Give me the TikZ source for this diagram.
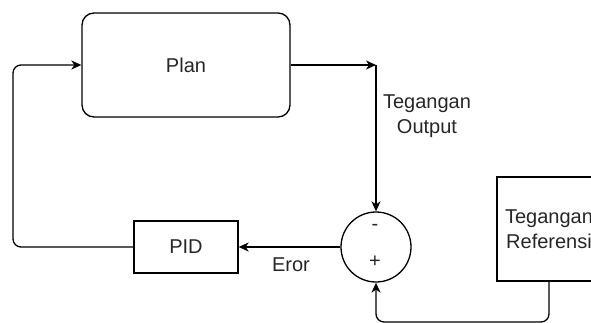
\documentclass[tikz,border=0pt]{standalone}
\usepackage{fontspec}
\setmainfont{Liberation Sans}
\usetikzlibrary{arrows.meta}
\tikzset{
  wire/.style={line width=1.3pt, black, rounded corners=8pt},
  arr/.style={-{Stealth[length=10pt,width=9pt,inset=3pt]}},
  block/.style={draw, line width=1.3pt, minimum width=104pt, minimum height=52pt, inner sep=0pt, align=center},
  lbl/.style={font=\fontsize{20}{25}\selectfont, text=black!85},
}
\begin{document}
\begin{tikzpicture}[x=1pt,y=-1pt]
  \useasboundingbox (0,0) rectangle (591,323);
  \clip (0,0) rectangle (591,323);
  % blocks
  \node[block, rounded corners=12pt, minimum width=208pt, minimum height=104pt, lbl] (plan) at (186,65) {Plan};
  \node[block, lbl] (pid) at (186,247) {PID};
  \node[draw, circle, line width=1.3pt, minimum size=70pt, inner sep=0pt] (sum) at (376,247) {};
  \node[lbl] (minus) at (375,227) {-};
  \node[lbl] (plus) at (375,262) {+};
  \node[block, lbl, minimum height=104pt] (ref) at (549,229) {Tegangan\\Referensi};
  % waypoints
  \coordinate (corner) at (376,65);
  % connectors
  \draw[wire, arr] (plan.east) -- (corner);
  \draw[wire, arr] (corner) -- (sum.north);
  \draw[wire, arr] (sum.west) -- (pid.east);
  \draw[wire, arr] (pid.west) -- (13,247) -- (13,65) -- (plan.west);
  \draw[wire, arr] (ref.south) -- (549,322) -- (376,322) -- (sum.south);
  % labels
  \node[lbl, align=center] (vout) at (427,116) {Tegangan\\Output};
  \node[lbl] (err) at (291,265) {Eror};
\end{tikzpicture}
\end{document}
